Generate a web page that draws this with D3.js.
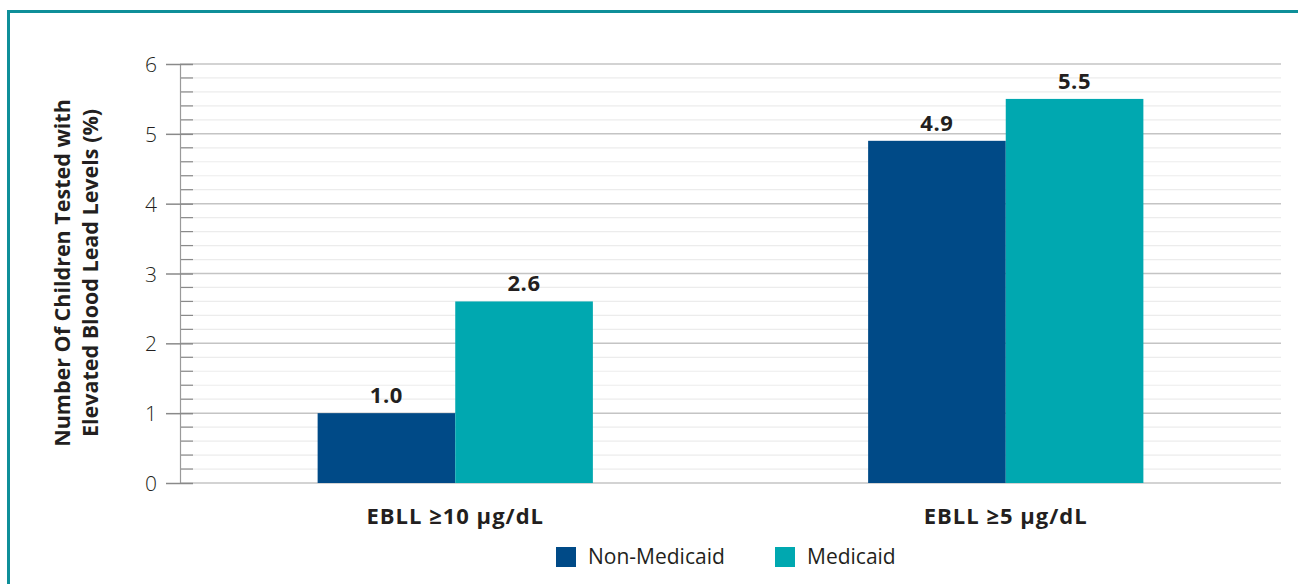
<!DOCTYPE html>
<html>
<head>
	<title>EBLL by Medicaid status</title>
	<meta charset="utf-8">
	<script src="https://cdn.jsdelivr.net/npm/d3@7"></script>
	<style>
		body { margin: 0; background: #fff; }
		#chartDiv { width: 1298px; height: 584px; }
		text { font-family: "Open Sans", Lato, sans-serif; fill: #231f20; }
	</style>
</head>
<body>
	<div id="chartDiv"></div>
	<script>
		// data
		const categories = ['EBLL \u226510 \u03bcg/dL', 'EBLL \u22655 \u03bcg/dL'];
		const seriesNames = ['Non-Medicaid', 'Medicaid'];
		const nonMedicaid = [1.0, 4.9];
		const medicaid = [2.6, 5.5];
		const yTicks = [0, 1, 2, 3, 4, 5, 6];
		const colors = ['#004a87', '#00a8b0'];

		const width = 1298, height = 584;
		const margin = { left: 180, right: 17, top: 64, bottom: 101 };
		const innerW = width - margin.left - margin.right;
		const innerH = height - margin.top - margin.bottom;

		const rows = categories.map((c, i) => ({ cat: c, values: [nonMedicaid[i], medicaid[i]] }));

		const svg = d3.select('#chartDiv').append('svg')
			.attr('width', width)
			.attr('height', height);

		// frame
		svg.append('path')
			.attr('d', `M8.5,${height} V11.5 H${width}`)
			.attr('fill', 'none')
			.attr('stroke', '#0e8f99')
			.attr('stroke-width', 3);

		const g = svg.append('g').attr('transform', `translate(${margin.left},${margin.top})`);

		const x0 = d3.scaleBand().domain(categories).range([0, innerW]);
		const x1 = d3.scaleBand().domain(seriesNames).range([0, x0.bandwidth() * 0.5]);
		const y = d3.scaleLinear().domain([0, 6]).range([innerH, 0]);

		// minor grid
		const minor = d3.range(0, 6.01, 0.2).filter(v => Math.abs(v - Math.round(v)) > 1e-6);
		g.selectAll('.minor').data(minor).enter().append('line')
			.attr('x1', 0).attr('x2', innerW)
			.attr('y1', d => y(d)).attr('y2', d => y(d))
			.attr('stroke', '#ececec').attr('stroke-width', 1.2);
		g.selectAll('.minorTick').data(minor).enter().append('line')
			.attr('x1', 0).attr('x2', 13)
			.attr('y1', d => y(d)).attr('y2', d => y(d))
			.attr('stroke', '#8a8a8a').attr('stroke-width', 1.2);

		// major grid
		g.selectAll('.major').data(yTicks).enter().append('line')
			.attr('x1', 0).attr('x2', innerW)
			.attr('y1', d => y(d)).attr('y2', d => y(d))
			.attr('stroke', '#c4c4c4').attr('stroke-width', 1.5);

		// y axis
		const yAxis = d3.axisLeft(y).tickValues(yTicks).tickSize(14).tickPadding(9).tickFormat(d3.format('d'));
		const yAxisG = g.append('g').call(yAxis);
		yAxisG.select('.domain').attr('stroke', '#9a9a9a').attr('stroke-width', 1.2);
		yAxisG.selectAll('.tick line').attr('stroke', '#8a8a8a').attr('stroke-width', 1.5).attr('x2', -14).attr('x1', 13);
		yAxisG.selectAll('.tick text').style('font-size', '21px').style('font-weight', 300).attr('fill', '#231f20').attr('dy', '0.36em');

		// bars
		const groups = g.selectAll('.grp').data(rows).enter().append('g')
			.attr('transform', d => `translate(${x0(d.cat) + x0.bandwidth() * 0.25},0)`);

		groups.selectAll('rect').data(d => d.values.map((v, i) => ({ key: seriesNames[i], v, i })))
			.enter().append('rect')
			.attr('x', d => x1(d.key))
			.attr('y', d => y(d.v))
			.attr('width', x1.bandwidth())
			.attr('height', d => innerH - y(d.v))
			.attr('fill', d => colors[d.i]);

		groups.selectAll('.val').data(d => d.values.map((v, i) => ({ key: seriesNames[i], v, i })))
			.enter().append('text')
			.attr('x', d => x1(d.key) + x1.bandwidth() / 2)
			.attr('y', d => y(d.v) - 10)
			.attr('text-anchor', 'middle')
			.style('font-size', '22px').style('font-weight', 700).style('letter-spacing', '0.6px')
			.text(d => d3.format('.1f')(d.v));

		// x labels
		g.selectAll('.xlab').data(categories).enter().append('text')
			.attr('x', d => x0(d) + x0.bandwidth() / 2)
			.attr('y', innerH + 41)
			.attr('text-anchor', 'middle')
			.style('font-size', '22px').style('font-weight', 700).style('letter-spacing', '1px')
			.text(d => d);

		// y title
		const yTitle = svg.append('text')
			.attr('transform', 'translate(0,273) rotate(-90)')
			.attr('text-anchor', 'middle')
			.style('font-size', '21.5px').style('font-weight', 700);
		yTitle.append('tspan').attr('x', 0).attr('y', 70).text('Number Of Children Tested with');
		yTitle.append('tspan').attr('x', 0).attr('y', 98).text('Elevated Blood Lead Levels (%)');

		// legend
		const legendX = [556, 775];
		const legend = svg.selectAll('.leg').data(seriesNames).enter().append('g')
			.attr('transform', (d, i) => `translate(${legendX[i]},547)`);
		legend.append('rect').attr('width', 20).attr('height', 20).attr('fill', (d, i) => colors[i]);
		legend.append('text').attr('x', 32).attr('y', 17)
			.style('font-size', '21px').style('font-weight', 400)
			.text(d => d);
	</script>
</body>
</html>
